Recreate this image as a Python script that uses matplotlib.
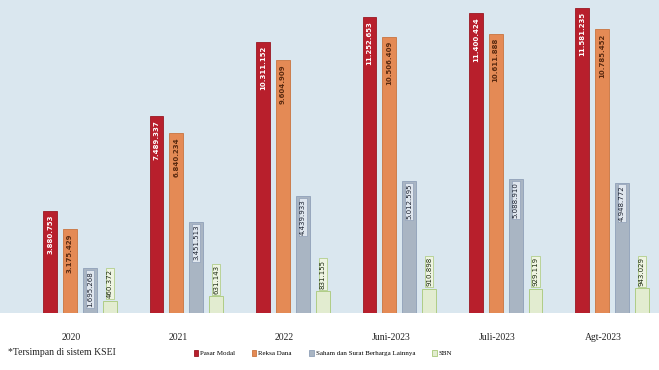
import matplotlib.pyplot as plt
import numpy as np

# data (jumlah investor, tersimpan di KSEI)
periods = ['2020', '2021', '2022', 'Juni-2023', 'Juli-2023', 'Agt-2023']
pasar_modal = [3880753, 7489337, 10311152, 11252653, 11400424, 11581235]
reksa_dana = [3175429, 6840234, 9604909, 10506409, 10611888, 10785452]
saham = [1695268, 3451513, 4439933, 5012595, 5088910, 4948772]
sbn = [460372, 631143, 831155, 910898, 929119, 943029]
series_names = ['Pasar Modal', 'Reksa Dana', 'Saham dan Surat Berharga Lainnya', 'SBN']


def fmt(v):
    return f'{v:,}'.replace(',', '.')


fig = plt.figure(figsize=(6.59, 3.70), dpi=100)
fig.patch.set_facecolor('white')
ax = fig.add_axes([0.0, 0.154, 1.0, 0.846])
ax.set_facecolor('#dae7ef')

x = np.arange(len(periods))
w = 0.13
offsets = [-0.28, -0.094, 0.094, 0.28]
colors = ['#b81f2c', '#e48a55', '#a9b5c3', '#e2ecd0']
edges = ['#9a1822', '#c9743f', '#8fa0b8', '#a8c878']
all_vals = [pasar_modal, reksa_dana, saham, sbn]

for vals, off, c, ec, name in zip(all_vals, offsets, colors, edges, series_names):
    ax.bar(x + off, vals, width=w, color=c, edgecolor=ec, linewidth=0.6, label=name)

for i in x:
    ax.text(i + offsets[0], pasar_modal[i] - 150000, fmt(pasar_modal[i]), rotation=90,
            ha='center', va='top', fontsize=5, color='white', fontweight='bold')
    ax.text(i + offsets[1], reksa_dana[i] - 150000, fmt(reksa_dana[i]), rotation=90,
            ha='center', va='top', fontsize=5, color='#5a2a10', fontweight='bold')
    ax.text(i + offsets[2], saham[i] - 100000, fmt(saham[i]), rotation=90,
            ha='center', va='top', fontsize=5, color='#1c2230',
            bbox=dict(boxstyle='square,pad=0.15', fc='#dfe6ee', ec='#8fa0b8', lw=0.5))
    ax.text(i + offsets[3], sbn[i] + 100000, fmt(sbn[i]), rotation=90,
            ha='center', va='bottom', fontsize=5, color='#1c2a10',
            bbox=dict(boxstyle='square,pad=0.15', fc='#eef4e2', ec='#a8c878', lw=0.5))

ax.set_xlim(-0.75, 5.44)
ax.set_ylim(0, 11.9e6)
ax.set_yticks([])
ax.set_xticks([])
for s in ax.spines.values():
    s.set_visible(False)

for i, p in enumerate(periods):
    ax.text(i - 0.08, -0.75e6, p, ha='center', va='top', fontsize=7,
            family='Liberation Serif', color='#222222')

fig.text(0.012, 0.036, '*Tersimpan di sistem KSEI', fontsize=7,
         family='Liberation Serif', color='#222222', va='bottom')

fig.legend(loc='lower center', bbox_to_anchor=(0.49, 0.02), ncol=4, frameon=False,
           prop={'family': 'Liberation Serif', 'size': 5}, handlelength=0.6,
           handleheight=0.8, columnspacing=2.5, handletextpad=0.3)

fig.savefig('out.png', dpi=100)
